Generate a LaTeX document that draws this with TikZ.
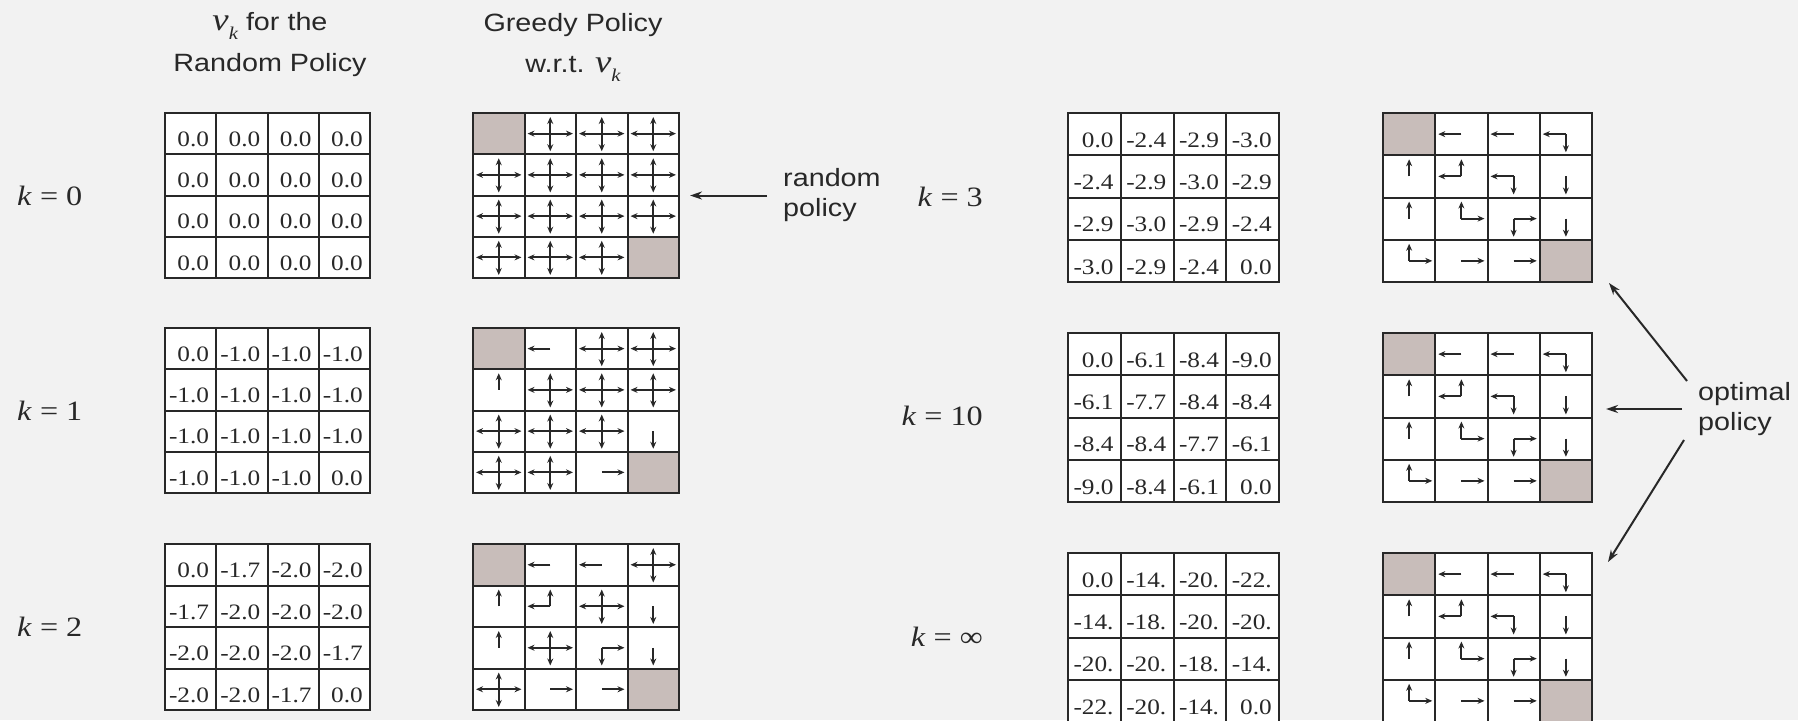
\documentclass[tikz,border=0pt]{standalone}
\usepackage{fontspec}
\setmainfont{Liberation Serif}[FakeStretch=1.15]
\setsansfont{Liberation Sans}[FakeStretch=1.15]
\usetikzlibrary{arrows.meta,calc}
\definecolor{bg}{RGB}{242,242,242}
\definecolor{term}{RGB}{200,189,186}
\definecolor{ink}{RGB}{40,40,40}
\tikzset{
  gridline/.style={draw=ink, line width=2pt},
  gridbox/.style={fill=white, inner sep=0pt, outer sep=0pt, anchor=north west},
  valtxt/.style={font=\fontsize{22}{24}\selectfont, text=ink, inner sep=0pt, anchor=base east},
  arm/.style={draw=ink, line width=2.2pt, -{Stealth[length=7pt,width=6pt]}},
  klabel/.style={font=\fontsize{28}{30}\selectfont, text=ink, inner sep=0pt},
  sanslabel/.style={font=\sffamily\fontsize{25}{30}\selectfont, text=ink, inner sep=0pt, align=left},
  header/.style={font=\sffamily\fontsize{25}{41}\selectfont, text=ink, inner sep=0pt, align=center, anchor=base},
  pointer/.style={draw=ink, line width=2pt, -{Stealth[length=12pt,width=8pt]}}
}
\newcommand\vk{{\rmfamily\fontsize{32}{32}\selectfont\itshape v}\raisebox{-9pt}{\rmfamily\fontsize{18}{18}\selectfont\itshape k}}
\newcommand\gridlines[4]{%
  \draw[gridline] (#1,#2) rectangle ({#1+#3},{#2+#4});
  \foreach \k in {1,2,3} {
    \draw[gridline] ({#1+\k*#3/4},#2) -- ({#1+\k*#3/4},{#2+#4});
    \draw[gridline] (#1,{#2+\k*#4/4}) -- ({#1+#3},{#2+\k*#4/4});
  }
}
\newcommand\valgrid[6]{%
  \node[gridbox, minimum width=#4pt, minimum height=#5pt] (#1) at (#2,#3) {};
  \foreach \v [count=\i from 0] in {#6} {
    \pgfmathtruncatemacro\r{int(\i/4)}
    \pgfmathtruncatemacro\c{mod(\i,4)}
    \pgfmathsetmacro\xx{#2+(\c+1)*#4/4-7}
    \pgfmathsetmacro\yy{#3+(\r+1)*#5/4-8}
    \node[valtxt] (#1-\i) at (\xx,\yy) {\v};
  }
  \gridlines{#2}{#3}{#4}{#5}
}
\def\drawcell#1#2#3#4\relax{%
  \if t#1\fill[term] (\cx-\hw,\cy-\hh) rectangle (\cx+\hw,\cy+\hh);\fi
  \if 1#1\draw[arm] (\cx,\cy) -- (\cx-\hw+3,\cy);\fi
  \if 1#2\draw[arm] (\cx,\cy) -- (\cx+\hw-3,\cy);\fi
  \if 1#3\draw[arm] (\cx,\cy) -- (\cx,\cy-\hh+4);\fi
  \if 1#4\draw[arm] (\cx,\cy) -- (\cx,\cy+\hh-3);\fi
}
\newcommand\polgrid[6]{%
  \node[gridbox, minimum width=#4pt, minimum height=#5pt] (#1) at (#2,#3) {};
  \foreach \code [count=\i from 0] in {#6} {
    \pgfmathtruncatemacro\r{int(\i/4)}
    \pgfmathtruncatemacro\c{mod(\i,4)}
    \pgfmathsetmacro\cx{#2+(\c+0.5)*#4/4}
    \pgfmathsetmacro\cy{#3+(\r+0.5)*#5/4}
    \pgfmathsetmacro\hw{#4/8}
    \pgfmathsetmacro\hh{#5/8}
    \expandafter\drawcell\code\relax
  }
  \gridlines{#2}{#3}{#4}{#5}
}
\begin{document}
\begin{tikzpicture}[x=1pt,y=-1pt]
\useasboundingbox (0,0) rectangle (1798,720);
\fill[bg] (0,0) rectangle (1798,720);

% headers
\node[header] (h1) at (270,71) {\vk{} for the\\Random Policy};
\node[header] (h2) at (573,72) {Greedy Policy\\w.r.t. \vk};

% k labels
\node[klabel, anchor=west] (k0) at (17,196) {\textit{k} = 0};
\node[klabel, anchor=west] (k1) at (17,411) {\textit{k} = 1};
\node[klabel, anchor=west] (k2) at (17,627) {\textit{k} = 2};
\node[klabel, anchor=east] (k3) at (983,197) {\textit{k} = 3};
\node[klabel, anchor=east] (k10) at (983,416) {\textit{k} = 10};
\node[klabel, anchor=east] (kinf) at (983,637) {\textit{k} = ∞};

% value grids
\valgrid{V0}{165}{113}{205}{165}{0.0,0.0,0.0,0.0,0.0,0.0,0.0,0.0,0.0,0.0,0.0,0.0,0.0,0.0,0.0,0.0}
\valgrid{V1}{165}{328}{205}{165}{0.0,-1.0,-1.0,-1.0,-1.0,-1.0,-1.0,-1.0,-1.0,-1.0,-1.0,-1.0,-1.0,-1.0,-1.0,0.0}
\valgrid{V2}{165}{544}{205}{166}{0.0,-1.7,-2.0,-2.0,-1.7,-2.0,-2.0,-2.0,-2.0,-2.0,-2.0,-1.7,-2.0,-2.0,-1.7,0.0}
\valgrid{V3}{1068}{113}{211}{169}{0.0,-2.4,-2.9,-3.0,-2.4,-2.9,-3.0,-2.9,-2.9,-3.0,-2.9,-2.4,-3.0,-2.9,-2.4,0.0}
\valgrid{V10}{1068}{333}{211}{169}{0.0,-6.1,-8.4,-9.0,-6.1,-7.7,-8.4,-8.4,-8.4,-8.4,-7.7,-6.1,-9.0,-8.4,-6.1,0.0}
\valgrid{Vinf}{1068}{553}{211}{169}{0.0,-14.,-20.,-22.,-14.,-18.,-20.,-20.,-20.,-20.,-18.,-14.,-22.,-20.,-14.,0.0}

% policy grids
\polgrid{P0}{473}{113}{206}{165}{t000,1111,1111,1111,1111,1111,1111,1111,1111,1111,1111,1111,1111,1111,1111,t000}
\polgrid{P1}{473}{328}{206}{165}{t000,1000,1111,1111,0010,1111,1111,1111,1111,1111,1111,0001,1111,1111,0100,t000}
\polgrid{P2}{473}{544}{206}{166}{t000,1000,1000,1111,0010,1010,1111,0001,0010,1111,0101,0001,1111,0100,0100,t000}
\polgrid{P3}{1383}{113}{209}{169}{t000,1000,1000,1001,0010,1010,1001,0001,0010,0110,0101,0001,0110,0100,0100,t000}
\polgrid{P10}{1383}{333}{209}{169}{t000,1000,1000,1001,0010,1010,1001,0001,0010,0110,0101,0001,0110,0100,0100,t000}
\polgrid{Pinf}{1383}{553}{209}{169}{t000,1000,1000,1001,0010,1010,1001,0001,0010,0110,0101,0001,0110,0100,0100,t000}

% pointers
\node[sanslabel, anchor=west] (rp) at (783,195.5) {random\\policy};
\draw[pointer] ([xshift=-16pt]rp.west) -- ([xshift=11pt]P0.east);

\node[sanslabel, anchor=west] (op) at (1698,409) {optimal\\policy};
\draw[pointer] ([shift={(-11,-28)}]op.west) -- ([shift={(17,1)}]P3.south east);
\draw[pointer] ([xshift=-16pt]op.west) -- ($(op.west -| P10.east)+(14,0)$);
\draw[pointer] ([shift={(-14,31)}]op.west) -- ([shift={(16,9)}]Pinf.north east);
\end{tikzpicture}
\end{document}
